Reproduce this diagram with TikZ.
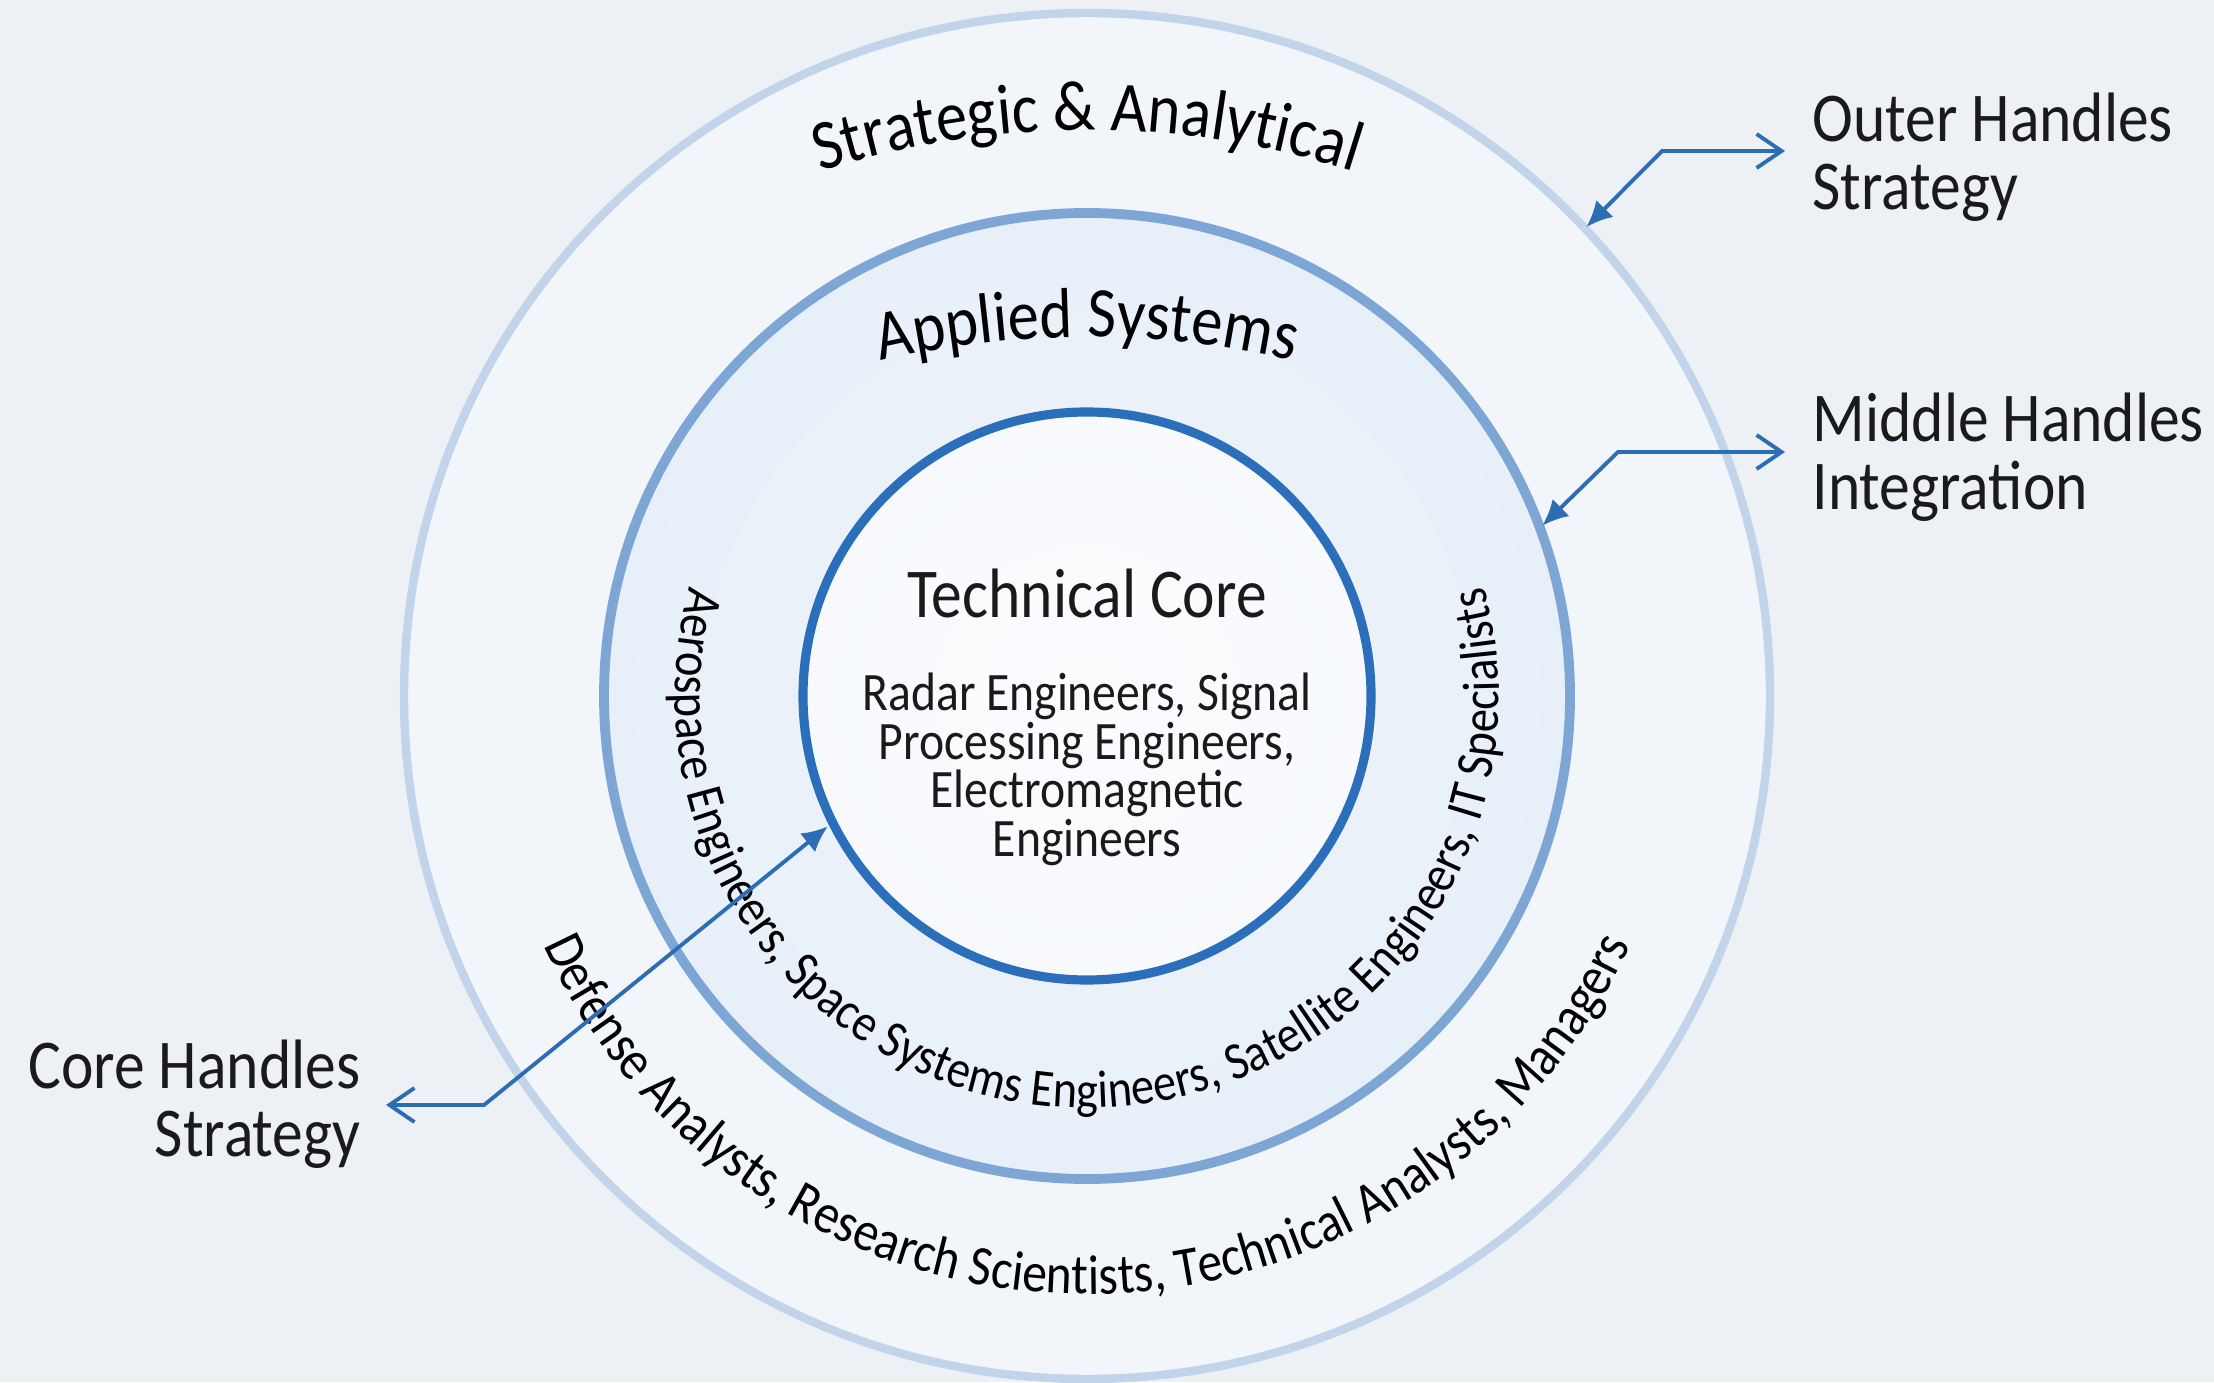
\documentclass[tikz,border=0pt]{standalone}
\usepackage{fontspec}
\setmainfont{Carlito}[FakeStretch=0.88]
\usetikzlibrary{arrows.meta,decorations.text}
\definecolor{bgc}{HTML}{EDF1F6}
\definecolor{textc}{HTML}{1A1A1A}
\definecolor{oshA}{HTML}{F2F6FA}
\definecolor{oshB}{HTML}{E1EBF6}
\definecolor{oshC}{HTML}{F0F4F9}
\definecolor{mshA}{HTML}{EEF4FA}
\definecolor{mshB}{HTML}{E6EFF9}
\definecolor{mshC}{HTML}{DAE6F4}
\definecolor{mshD}{HTML}{CCDCEF}
\definecolor{ishA}{HTML}{FBFCFE}
\definecolor{ishB}{HTML}{F5F8FC}
\definecolor{ishC}{HTML}{E6EEF8}
\definecolor{outerblue}{HTML}{C2D4E9}
\definecolor{midblue}{HTML}{7EA6D5}
\definecolor{coreblue}{HTML}{2B6FBB}
\definecolor{arrowblue}{HTML}{2D6DB3}
\pgfdeclareradialshading{outershade}{\pgfpoint{0bp}{0bp}}{color(0bp)=(oshA); color(30bp)=(oshA); color(35.5bp)=(oshB); color(41bp)=(oshA); color(50bp)=(oshC)}
\pgfdeclareradialshading{midshade}{\pgfpoint{0bp}{0bp}}{color(0bp)=(mshA); color(29bp)=(mshB); color(42bp)=(mshC); color(50bp)=(mshD)}
\pgfdeclareradialshading{innershade}{\pgfpoint{0bp}{0bp}}{color(0bp)=(ishA); color(35bp)=(ishB); color(50bp)=(ishC)}
\newcommand\dgbig{\fontsize{19.9pt}{19.4pt}\selectfont}
\newcommand\dgarc{\fontsize{20.2pt}{20pt}\selectfont}
\newcommand\dgsmall{\fontsize{15.4pt}{13.9pt}\selectfont}
\newcommand\dginner{\fontsize{15.0pt}{15pt}\selectfont}
\newcommand\dgouter{\fontsize{16.0pt}{16pt}\selectfont}
\begin{document}
\begin{tikzpicture}[
  txt/.style={text=textc, inner sep=0pt},
  lbl/.style={txt, font=\dgbig, align=left},
  outerring/.style={draw=outerblue, line width=2.4pt},
  midring/.style={draw=midblue, line width=2.8pt},
  innerring/.style={draw=coreblue, line width=2.6pt},
  arctext/.style={color=textc, decorate},
  handle/.style={draw=arrowblue, line width=1.1pt,
    {Straight Barb[length=2.5mm, width=3.4mm]}-{Latex[length=2.6mm, width=2.4mm]}}
]
\useasboundingbox (0,0) rectangle (22.14,13.82);
\fill[bgc] (0,0) rectangle (22.14,13.82);
\coordinate (C) at (10.87,6.86);

% rings
\shade[shading=outershade] (C) circle (6.83);
\draw[outerring] (C) circle (6.83);
\shade[shading=midshade] (C) circle (4.83);
\draw[midring] (C) circle (4.83);
\shade[shading=innershade] (C) circle (2.84);
\draw[innerring] (C) circle (2.84);

% curved ring titles
\coordinate (CA) at (10.87,3.82);
\coordinate (CB) at (10.87,1.45);
\path[arctext, decoration={text along path, text align=center,
  text={|\dgarc|Strategic {\&} Analytical}}]
  ([shift={(112:8.70)}]CA) arc[start angle=112, end angle=68, radius=8.70];
\path[arctext, decoration={text along path, text align=center,
  text={|\dgarc|Applied Systems}}]
  ([shift={(105:9.00)}]CB) arc[start angle=105, end angle=75, radius=9.00];

% curved member lists
\path[arctext, decoration={text along path, text align=center,
  text={|\dginner|Aerospace Engineers, Space Systems Engineers, Satellite Engineers, IT Specialists}}]
  ([shift={(150:4.12)}]C) arc[start angle=150, end angle=390, radius=4.12];
\path[arctext, decoration={text along path, text align=center,
  text={|\dgouter|Defense Analysts, Research Scientists, Technical Analysts, Managers}}]
  ([shift={(190:5.98)}]C) arc[start angle=190, end angle=350, radius=5.98];

% core texts
\node[txt, font=\dgbig, anchor=base] (core) at (10.87,7.64) {Technical Core};
\node[txt, font=\dgsmall, align=center, anchor=north] (coredesc) at (10.87,7.10)
  {Radar Engineers, Signal\\Processing Engineers,\\Electromagnetic\\Engineers};

% side labels
\node[lbl, anchor=north west] (outerlbl) at (18.12,12.90) {Outer Handles\\Strategy};
\node[lbl, anchor=north west] (midlbl) at (18.12,9.90) {Middle Handles\\Integration};
\node[lbl, align=right, anchor=north east] (corelbl) at (3.61,3.43) {Core Handles\\Strategy};

% arrow anchor points
\coordinate (otip) at (17.85,12.31);
\coordinate (ocorner) at (16.62,12.31);
\coordinate (oring) at ([shift={(43.2:6.85)}]C);
\coordinate (mtip) at (17.85,9.30);
\coordinate (mcorner) at (16.18,9.30);
\coordinate (mring) at ([shift={(20.5:4.86)}]C);
\coordinate (ctip) at (3.86,2.77);
\coordinate (ccorner) at (4.84,2.77);
\coordinate (cring) at ([shift={(206.7:2.90)}]C);

\draw[handle] (otip) -- (ocorner) -- (oring);
\draw[handle] (mtip) -- (mcorner) -- (mring);
\draw[handle] (ctip) -- (ccorner) -- (cring);
\end{tikzpicture}
\end{document}
